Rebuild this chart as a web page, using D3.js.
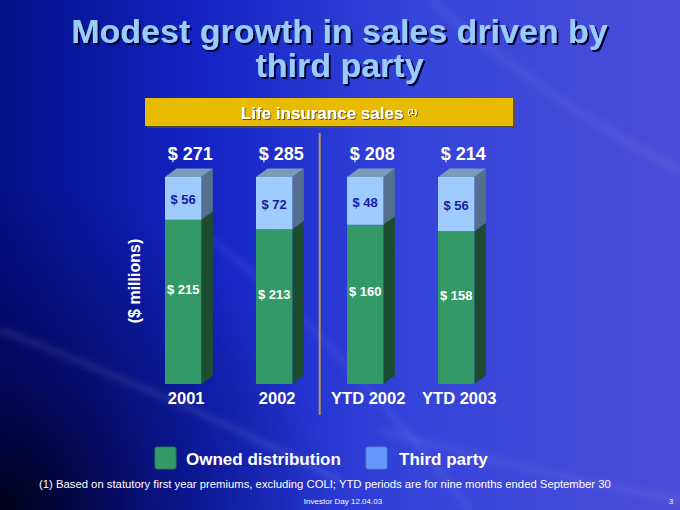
<!DOCTYPE html>
<html>
<head>
<meta charset="utf-8">
<script src="https://cdn.jsdelivr.net/npm/d3@7"></script>
<style>
  html, body { margin: 0; padding: 0; background: #1020b0; }
  svg { display: block; font-family: "Liberation Sans", Arial, sans-serif; }
</style>
</head>
<body>
<div id="chart"></div>
<script>
const categories = ["2001", "2002", "YTD 2002", "YTD 2003"];
const owned = [215, 213, 160, 158];
const thirdParty = [56, 72, 48, 56];
const totals = [271, 285, 208, 214];
const seriesNames = ["Owned distribution", "Third party"];

const W = 680, H = 510;

const svg = d3.select("#chart")
    .append("svg")
    .attr("width", W)
    .attr("height", H);

const defs = svg.append("defs");

// slide background
const bg = defs.append("linearGradient").attr("id", "bg")
    .attr("x1", "0").attr("y1", "0").attr("x2", "1").attr("y2", "0");
bg.append("stop").attr("offset", "0").attr("stop-color", "#050f88");
bg.append("stop").attr("offset", "0.3").attr("stop-color", "#1424c4");
bg.append("stop").attr("offset", "0.6").attr("stop-color", "#3444da");
bg.append("stop").attr("offset", "1").attr("stop-color", "#4c4cd8");

const dark = defs.append("radialGradient").attr("id", "dark")
    .attr("gradientUnits", "userSpaceOnUse")
    .attr("cx", 0).attr("cy", 510).attr("r", 330);
dark.append("stop").attr("offset", "0").attr("stop-color", "#000010").attr("stop-opacity", 0.95);
dark.append("stop").attr("offset", "0.45").attr("stop-color", "#000030").attr("stop-opacity", 0.45);
dark.append("stop").attr("offset", "1").attr("stop-color", "#000040").attr("stop-opacity", 0);

const blur = defs.append("filter").attr("id", "blur")
    .attr("x", "-20%").attr("y", "-20%").attr("width", "140%").attr("height", "140%");
blur.append("feGaussianBlur").attr("stdDeviation", 3);

const titleShadow = defs.append("filter").attr("id", "titleShadow")
    .attr("x", "-5%").attr("y", "-20%").attr("width", "110%").attr("height", "140%");
titleShadow.append("feDropShadow")
    .attr("dx", 2).attr("dy", 2).attr("stdDeviation", 0.4)
    .attr("flood-color", "#000033").attr("flood-opacity", 1);

const headShadow = defs.append("filter").attr("id", "headShadow")
    .attr("x", "-5%").attr("y", "-20%").attr("width", "110%").attr("height", "140%");
headShadow.append("feDropShadow")
    .attr("dx", 1).attr("dy", 1).attr("stdDeviation", 0.3)
    .attr("flood-color", "#5a4a10").attr("flood-opacity", 0.9);

svg.append("rect").attr("width", W).attr("height", H).attr("fill", "url(#bg)");
svg.append("rect").attr("width", W).attr("height", H).attr("fill", "url(#dark)");

// faint light streaks
const streaks = svg.append("g").attr("filter", "url(#blur)").attr("fill", "none").attr("stroke", "#ffffff");
streaks.append("path").attr("d", "M0,330 Q160,390 340,480").attr("stroke-width", 6).attr("stroke-opacity", 0.1);
streaks.append("path").attr("d", "M200,230 Q330,330 470,510").attr("stroke-width", 5).attr("stroke-opacity", 0.08);
streaks.append("path").attr("d", "M380,430 Q520,470 680,500").attr("stroke-width", 8).attr("stroke-opacity", 0.06);
streaks.append("path").attr("d", "M430,0 Q560,110 680,170").attr("stroke-width", 10).attr("stroke-opacity", 0.05);

// title, two lines in one text element
const title = svg.append("text")
    .attr("y", 43)
    .attr("font-size", 34)
    .attr("font-weight", "bold")
    .attr("text-anchor", "middle")
    .attr("fill", "#99ccff")
    .attr("filter", "url(#titleShadow)");
title.append("tspan").attr("x", 339.5).text("Modest growth in sales driven by");
title.append("tspan").attr("x", 339.5).attr("dy", 34).text("third party");

// yellow header
svg.append("rect").attr("x", 147).attr("y", 100).attr("width", 368).attr("height", 28).attr("fill", "#6a5600").attr("opacity", 0.7);
svg.append("rect").attr("x", 145).attr("y", 98).attr("width", 368).attr("height", 28).attr("fill", "#e8bb00");
const head = svg.append("text")
    .attr("y", 119)
    .attr("font-weight", "bold")
    .attr("fill", "#ffffff")
    .attr("text-anchor", "middle")
    .attr("filter", "url(#headShadow)");
head.append("tspan").attr("x", 329).attr("font-size", 17).text("Life insurance sales");
head.append("tspan").attr("dx", 4).attr("dy", -5).attr("font-size", 8).text("(1)");

// scales
const x = d3.scaleBand()
    .domain(categories)
    .range([137.7, 501.7])
    .paddingInner(0.6)
    .paddingOuter(0.3);

const y = d3.scaleLinear()
    .domain([0, 1])
    .range([384, 177]);

const dx = 11.5, dy = 8.5;
const bw = x.bandwidth();

const rows = categories.map((c, i) => ({
    cat: c,
    owned: owned[i],
    third: thirdParty[i],
    total: totals[i],
    share: owned[i] / (owned[i] + thirdParty[i])
}));

const bars = svg.append("g");

rows.forEach(d => {
    const x0 = x(d.cat);
    const yTop = y(1);
    const yMid = y(d.share);
    const yBot = y(0);
    const g = bars.append("g");

    // side faces
    g.append("path")
        .attr("d", `M${x0 + bw},${yMid} L${x0 + bw + dx},${yMid - dy} L${x0 + bw + dx},${yBot - dy} L${x0 + bw},${yBot} Z`)
        .attr("fill", "#1c4d31");
    g.append("path")
        .attr("d", `M${x0 + bw},${yTop} L${x0 + bw + dx},${yTop - dy} L${x0 + bw + dx},${yMid - dy} L${x0 + bw},${yMid} Z`)
        .attr("fill", "#55708f");
    // top face
    g.append("path")
        .attr("d", `M${x0},${yTop} L${x0 + dx},${yTop - dy} L${x0 + bw + dx},${yTop - dy} L${x0 + bw},${yTop} Z`)
        .attr("fill", "#7b9bb9");
    // front faces
    g.append("rect")
        .attr("x", x0).attr("y", yMid).attr("width", bw).attr("height", yBot - yMid)
        .attr("fill", "#339966");
    g.append("rect")
        .attr("x", x0).attr("y", yTop).attr("width", bw).attr("height", yMid - yTop)
        .attr("fill", "#9fcbff");

    // labels
    g.append("text")
        .attr("x", x0 + bw / 2).attr("y", (yTop + yMid) / 2 + 6)
        .attr("text-anchor", "middle").attr("font-size", 13).attr("font-weight", "bold")
        .attr("fill", "#1a1aa6")
        .text(`$ ${d.third}`);
    g.append("text")
        .attr("x", x0 + bw / 2).attr("y", (yMid + yBot) / 2 - 8)
        .attr("text-anchor", "middle").attr("font-size", 13).attr("font-weight", "bold")
        .attr("fill", "#ffffff")
        .text(`$ ${d.owned}`);
    g.append("text")
        .attr("x", x0 + bw / 2 + 7).attr("y", 160)
        .attr("text-anchor", "middle").attr("font-size", 18).attr("font-weight", "bold")
        .attr("fill", "#ffffff")
        .text(`$ ${d.total}`);
});

// category axis labels
svg.append("g")
    .selectAll("text")
    .data(categories)
    .join("text")
    .attr("x", d => x(d) + bw / 2 + 3)
    .attr("y", 404)
    .attr("text-anchor", "middle")
    .attr("font-size", 16.5)
    .attr("font-weight", "bold")
    .attr("fill", "#ffffff")
    .text(d => d);

// divider between annual and YTD
const divX = (x("2002") + bw + x("YTD 2002")) / 2;
svg.append("line")
    .attr("x1", divX).attr("x2", divX)
    .attr("y1", 133).attr("y2", 415)
    .attr("stroke", "#b8955a").attr("stroke-width", 2);

// unit label
svg.append("text")
    .attr("transform", "translate(140,281) rotate(-90)")
    .attr("text-anchor", "middle")
    .attr("font-size", 16)
    .attr("font-weight", "bold")
    .attr("fill", "#ffffff")
    .text("($ millions)");

// legend
const legend = svg.append("g");
const legendItems = [
    { name: seriesNames[0], color: "#339966", x: 155, tx: 186 },
    { name: seriesNames[1], color: "#6699ff", x: 366, tx: 399 }
];
legendItems.forEach(l => {
    legend.append("rect")
        .attr("x", l.x).attr("y", 447).attr("width", 21).attr("height", 22)
        .attr("rx", 2)
        .attr("fill", l.color)
        .attr("stroke", d3.color(l.color).darker(0.6)).attr("stroke-width", 1);
    legend.append("text")
        .attr("x", l.tx).attr("y", 465)
        .attr("font-size", 17)
        .attr("font-weight", "bold")
        .attr("fill", "#ffffff")
        .text(l.name);
});

// footnotes
svg.append("text")
    .attr("x", 39).attr("y", 488)
    .attr("font-size", 11.3)
    .attr("fill", "#ffffff")
    .text("(1) Based on statutory first year premiums, excluding COLI; YTD periods are for nine months ended September 30");

svg.append("text")
    .attr("x", 343).attr("y", 504)
    .attr("text-anchor", "middle")
    .attr("font-size", 8)
    .attr("fill", "#ffffff")
    .text("Investor Day 12.04.03");

svg.append("text")
    .attr("x", 671).attr("y", 504)
    .attr("text-anchor", "middle")
    .attr("font-size", 8)
    .attr("fill", "#ffffff")
    .text("3");
</script>
</body>
</html>
